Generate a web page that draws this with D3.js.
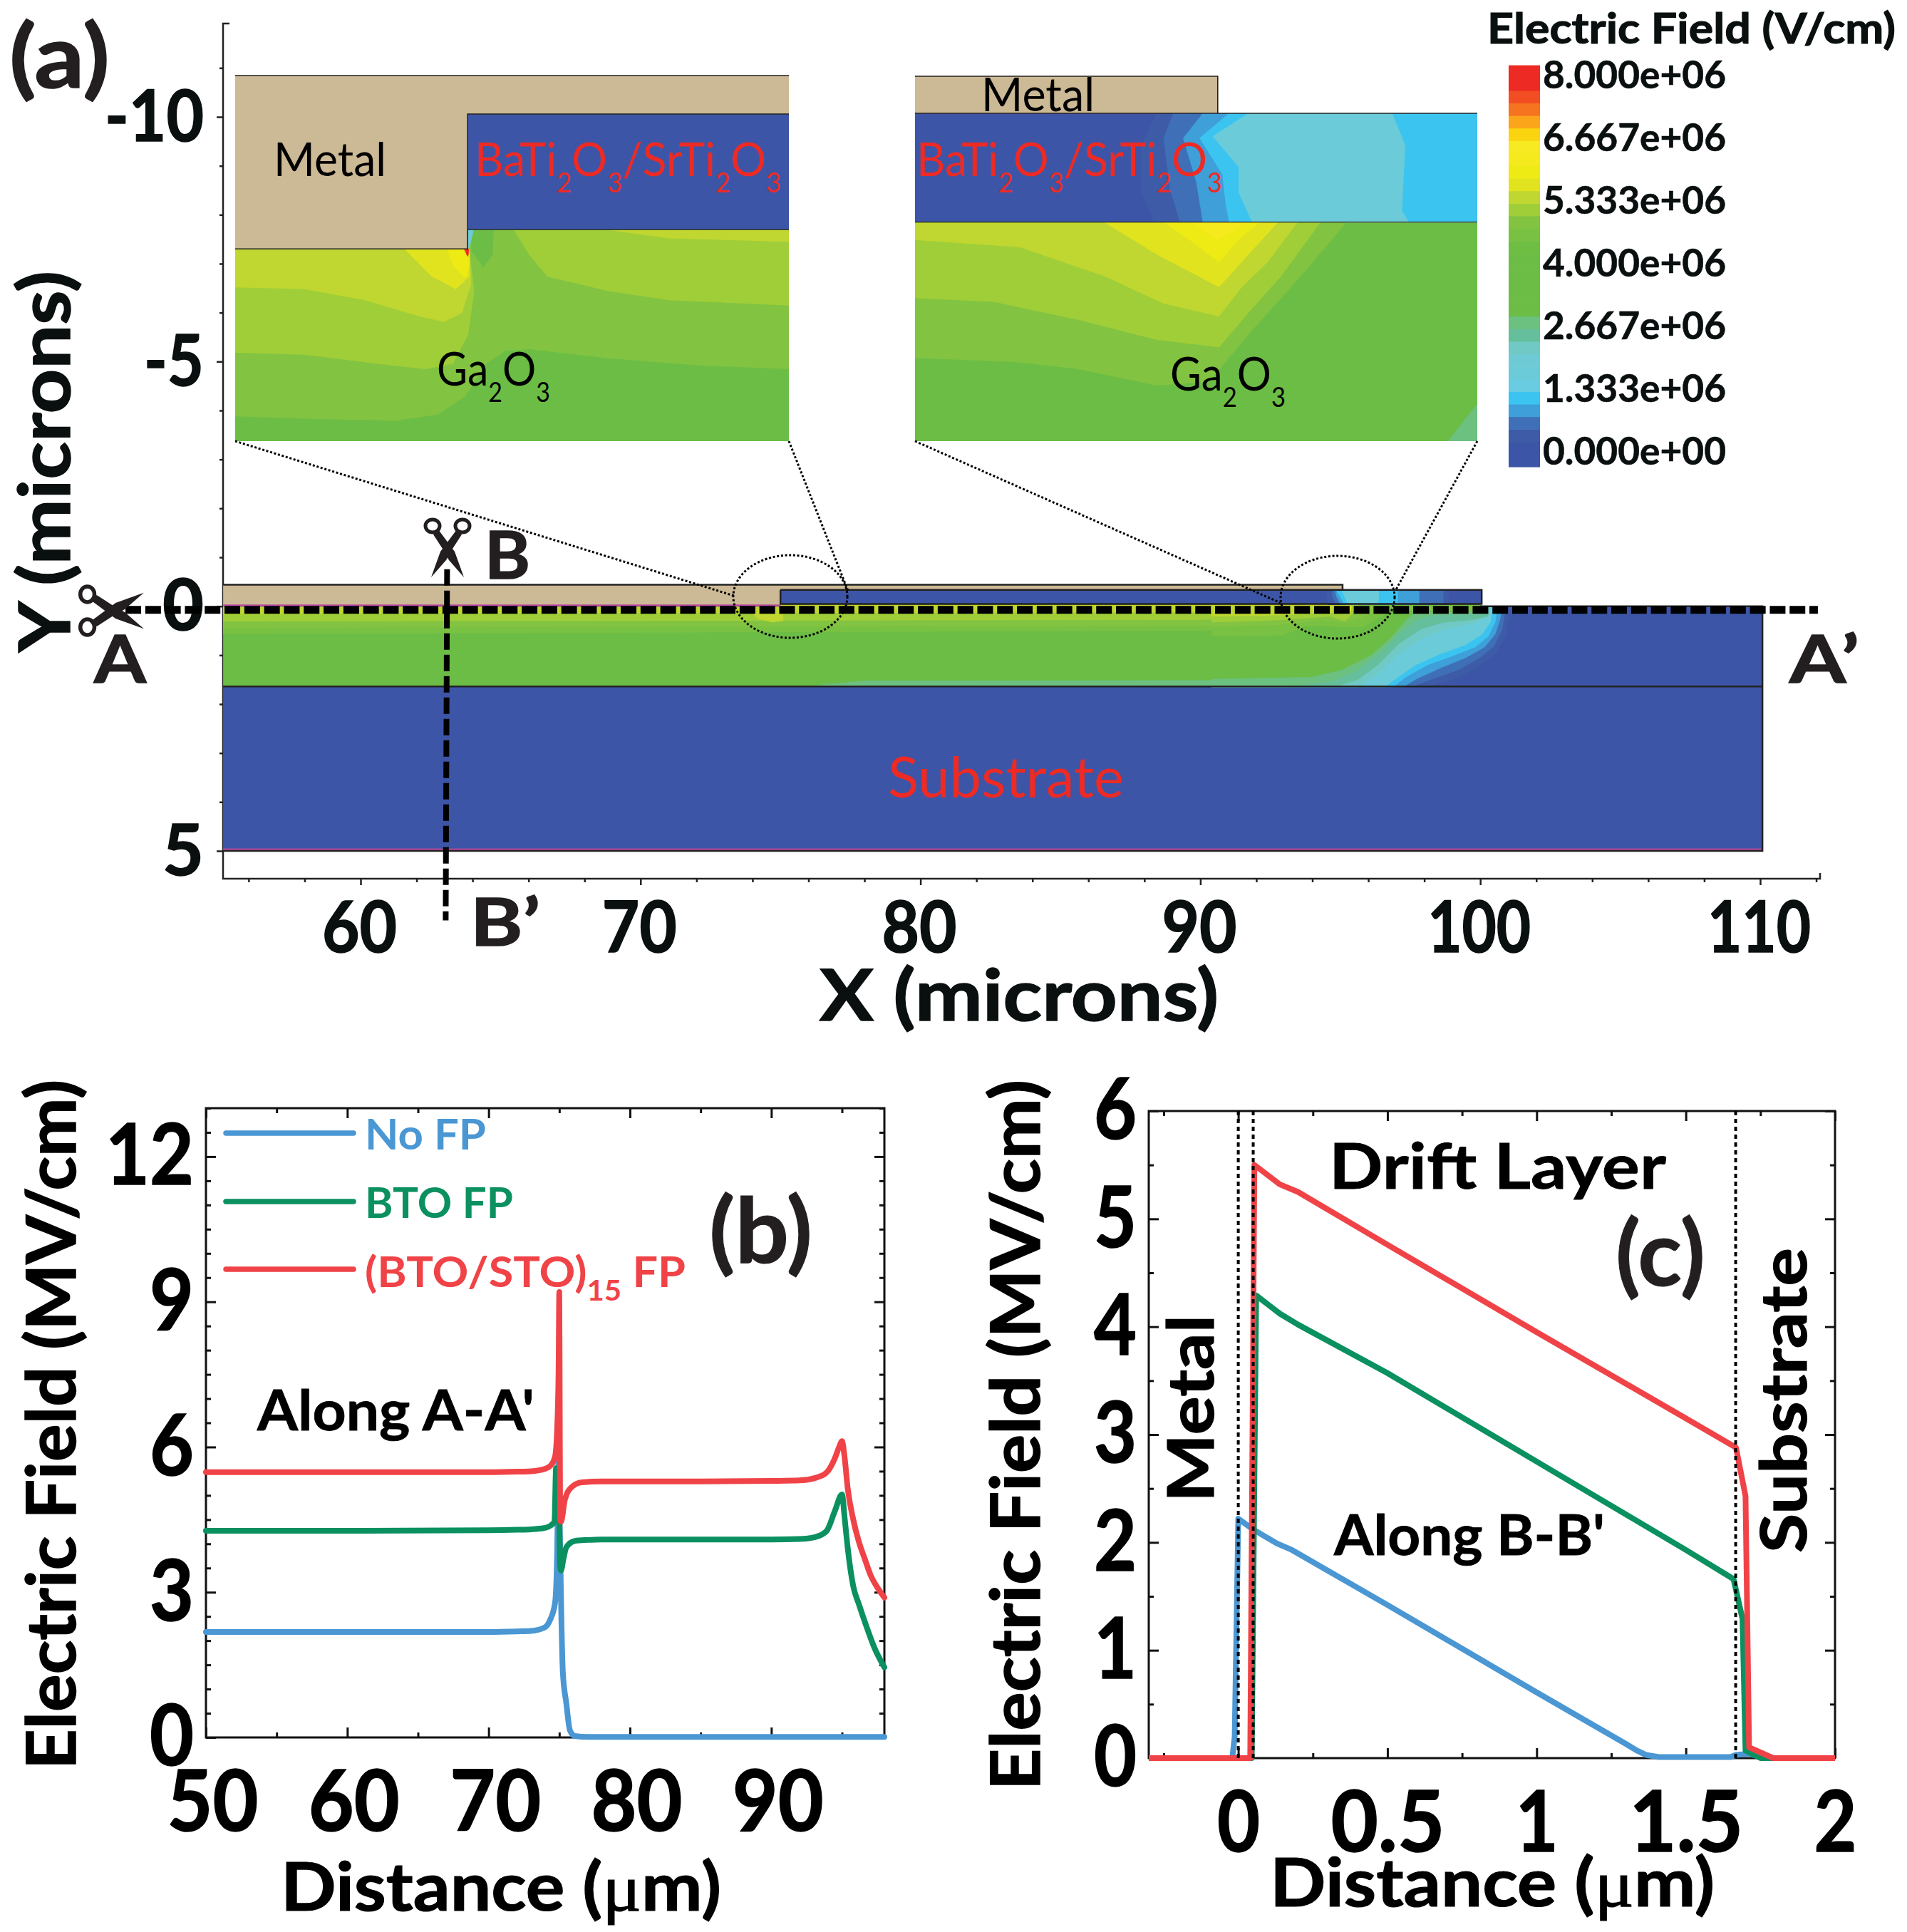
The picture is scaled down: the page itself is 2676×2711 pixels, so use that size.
<!DOCTYPE html>
<html><head><meta charset="utf-8">
<script src="https://cdnjs.cloudflare.com/ajax/libs/d3/7.8.5/d3.min.js"></script>
<style>html,body{margin:0;padding:0;background:#fff}svg{display:block}text{font-family:Lato,"Open Sans",sans-serif}</style>
</head><body><svg id="c" width="2676" height="2711"></svg>
<script>
// ---------- colour bar ----------
const bandColours = ["#3d55a6","#3d55a6","#3e5ba8","#3f70b7","#3f9fd8","#3bc4f0","#69cce0","#6bcbd9","#6ecbd5","#70c9c4","#66bf9c","#6cc080","#6cbd45","#6cbd45","#6cbd45","#6cbd45","#6cbd45","#6ebe44","#79c143","#82c341","#a0ce38","#bfd730","#e2e31f","#eeea14","#f5ea1d","#f7ea22","#fad40f","#fba51b","#f6741f","#f34d23","#ee2a24","#ee2a24"];
const barLabels = ["0.000e+00","1.333e+06","2.667e+06","4.000e+06","5.333e+06","6.667e+06","8.000e+06"];
const barLabelValues = [0,1.333,2.667,4,5.333,6.667,8];
// ---------- panel (a) axes ----------
const xMajorA = [60,70,80,90,100,110];
const xMinorA = [56,58,62,64,66,68,72,74,76,78,82,84,86,88,92,94,96,98,102,104,106,108,112];
const yMajorA = [-10,-5,0,5];
const yMinorA = [-11,-9,-8,-7,-6,-4,-3,-2,-1,1,2,3,4];
// ---------- panel (a) device, microns ----------
const metalPts = [[55.09,-0.44],[95.08,-0.44],[95.08,-0.335],[75,-0.335],[75,0],[55.09,0]];
const filmPts = [[75,-0.335],[100.05,-0.335],[100.05,-0.045],[75,-0.045]];
const stripBands = [
 {v:.1,p:[[97,0],[110.08,0],[110.08,1.64],[97,1.64]]},
 {v:3.5,p:[[55.09,-.05],[100,-.05],[100,1.64],[55.09,1.64]]},
 {v:2.9,p:[[76,1.64],[76.5,1.6],[78,1.52],[92,1.51],[92,1.64]]},
 {v:4.6,p:[[55.09,-.05],[98.5,-.05],[98.5,.1],[97,.14],[96,.28],[95.3,.42],[93.5,.45],[90,.5],[55.09,.57]]},
 {v:4.85,p:[[55.09,-.05],[97,-.05],[96,.14],[95.8,.28],[95,.34],[93,.4],[90,.4],[55.09,.44]]},
 {v:5.1,p:[[55.09,-.05],[96.2,-.05],[95.9,.15],[95.5,.26],[94.5,.28],[92,.24],[90,.28],[55.09,.31]]},
 {v:5.35,p:[[55.09,-.05],[95.6,-.05],[95.6,.12],[94.5,.16],[92,.12],[55.09,.16]]},
 {v:5.6,p:[[93.5,-.05],[95.4,-.05],[95.3,.08],[94.4,.08]]},
 {v:5.85,p:[[94.5,-.05],[95.2,-.05],[95.1,.05],[94.7,.05]]},
 {v:5.35,p:[[73.9,.1],[75.1,.1],[75.1,.3],[74.7,.33],[74.2,.26]]}
];
// contour vertices near the right end of the strip, local grid units
const stripEdgeBands = [
 {v:.1,p:[[1137,215],[1500,215],[1500,553],[800,553]]},
 {v:.6,p:[[0,207],[1137,207],[1137,215],[1260,215],[1255,245],[1240,340],[1190,420],[1120,470],[1020,520],[900,553],[0,553]]},
 {v:.85,p:[[0,207],[1137,207],[1137,215],[1240,215],[1225,310],[1190,380],[1130,430],[1040,480],[940,515],[840,553],[0,553]]},
 {v:1.1,p:[[0,207],[1137,207],[1137,215],[1225,215],[1215,270],[1195,330],[1150,385],[1070,430],[970,470],[870,515],[805,553],[0,553]]},
 {v:1.3,p:[[0,207],[1137,207],[1137,215],[1205,215],[1195,280],[1165,340],[1110,385],[1020,420],[910,460],[820,510],[765,553],[0,553]]},
 {v:1.9,p:[[0,207],[1137,207],[1137,215],[1185,215],[1175,280],[1140,330],[1070,375],[960,415],[860,460],[780,515],[730,553],[0,553]]},
 {v:2.4,p:[[0,207],[1137,207],[1137,215],[1175,215],[1165,255],[1100,285],[980,310],[880,350],[790,410],[710,490],[620,553],[0,553]]},
 {v:2.6,p:[[0,207],[1137,207],[1140,215],[1165,215],[1165,255],[1100,270],[980,280],[880,310],[790,370],[700,460],[620,520],[520,553],[0,553]]},
 {v:2.9,p:[[0,207],[1137,207],[1140,245],[940,250],[860,270],[800,320],[720,400],[620,480],[520,525],[420,540],[300,553],[0,553]]},
 {v:3.5,p:[[0,207],[1125,207],[1125,235],[850,240],[820,270],[750,350],[670,420],[550,480],[420,510],[0,518]]},
 {v:4.6,p:[[0,207],[1125,207],[1125,232],[750,232],[690,270],[640,300],[600,300],[400,295],[300,335],[0,340]]},
 {v:4.85,p:[[0,207],[760,207],[700,232],[620,265],[560,280],[470,270],[300,290],[0,300]]},
 {v:5.1,p:[[0,207],[620,207],[600,240],[560,275],[500,255],[300,270],[0,280]]},
 {v:5.35,p:[[0,207],[590,207],[585,245],[500,240],[300,250],[0,255]]},
 {v:5.6,p:[[510,215],[590,215],[585,235],[525,235]]}
];
const filmEdgeBands = [
 {v:.6,p:[[480,148],[490,207],[1000,207],[1000,148]]},
 {v:.85,p:[[505,148],[510,175],[525,207],[975,207],[978,148]]},
 {v:1.1,p:[[520,148],[525,170],[545,207],[875,207],[875,148]]},
 {v:1.3,p:[[525,148],[540,170],[560,207],[785,207],[785,148]]},
 {v:1.9,p:[[548,148],[575,207],[700,207],[705,180],[705,148]]}
];
// ---------- left inset, local grid units ----------
const leftInsetField = [
 {v:3.5,p:[[769,631],[1297,631],[1297,1213],[387,1213],[387,684],[769,684]]},
 {v:4.85,p:[[387,684],[769,684],[769,631],[1297,631],[1297,1015],[1150,1005],[1000,985],[870,960],[830,965],[800,1000],[765,1090],[720,1140],[650,1157],[520,1152],[387,1145]]},
 {v:5.1,p:[[387,684],[772,684],[780,800],[770,920],[745,1000],[700,1015],[620,1000],[500,975],[387,970]]},
 {v:5.1,p:[[845,632],[1297,632],[1297,840],[1100,825],[1000,800],[900,760],[870,700]]},
 {v:5.35,p:[[387,684],[772,684],[775,780],[760,860],[730,885],[690,870],[600,825],[500,795],[387,790]]},
 {v:5.35,p:[[1000,632],[1297,632],[1297,665],[1100,655]]},
 {v:5.6,p:[[665,684],[772,684],[772,760],[750,795],[710,760]]},
 {v:5.85,p:[[735,684],[772,684],[772,730],[765,765],[745,730]]},
 {v:3.5,p:[[775,632],[812,632],[810,700],[795,735],[775,690]]},
 {v:1.9,p:[[769,632],[779,632],[772,682],[769,682]]},
 {v:7.1,p:[[762,684],[772,684],[771,700],[766,696]]},
 {v:7.9,p:[[765,684],[771,684],[770,706],[767,700]]}
];
// ---------- right inset, local grid units ----------
const rightInsetFilm = [
 {v:.6,p:[[420,312],[910,312],[910,610],[415,610],[395,520],[395,400]]},
 {v:.85,p:[[445,312],[910,312],[910,610],[455,610],[440,520],[430,380]]},
 {v:1.1,p:[[490,312],[910,312],[910,610],[490,610],[480,500],[460,380]]},
 {v:1.3,p:[[530,312],[910,312],[910,610],[530,610],[525,560],[520,480],[485,380]]},
 {v:1.9,p:[[560,312],[780,312],[800,400],[795,580],[805,610],[565,610],[545,530],[545,460],[505,375]]}
];
const rightInsetField = [
 {v:3.5,p:[[50,612],[910,612],[910,1213],[50,1213]]},
 {v:2.9,p:[[865,1213],[910,1110],[910,1213]]},
 {v:4.85,p:[[50,612],[710,612],[640,760],[560,920],[500,1050],[420,1060],[300,1015],[200,995],[50,985]]},
 {v:5.1,p:[[50,612],[670,612],[610,760],[565,850],[515,955],[420,935],[300,880],[170,830],[50,820]]},
 {v:5.35,p:[[50,612],[635,612],[590,720],[550,790],[515,870],[430,835],[340,760],[210,680],[50,660]]},
 {v:5.6,p:[[340,612],[605,612],[560,700],[515,790],[420,700]]},
 {v:5.85,p:[[430,612],[578,612],[550,650],[515,722],[470,660]]},
 {v:6.1,p:[[475,612],[555,612],[535,640],[512,660]]}
];
// ---------- panel (b) ----------
const bBlueX=[50,60,70,72,73,74,74.35,74.7,74.85,74.95,75.02,75.15,75.25,75.5,75.75,76.1,77,85,98];
const bBlueY=[2.18,2.18,2.18,2.19,2.2,2.28,2.43,2.78,3.85,5.85,4.6,2.42,1.35,.7,.15,.03,.01,.01,.01];
const bGreenX=[50,60,70,72,73,74,74.4,74.66,74.77,74.9,75.0,75.05,75.12,75.3,75.5,76.1,77,78,85,90,92,93.1,93.9,94.5,95,95.2,95.4,95.8,96.2,96.7,97.3,98];
const bGreenY=[4.27,4.27,4.28,4.29,4.3,4.33,4.38,4.46,5.56,5.3,4.6,3.6,3.45,3.7,3.93,4.06,4.08,4.09,4.09,4.09,4.1,4.14,4.26,4.68,5.02,4.5,3.93,3.12,2.75,2.32,1.85,1.45];
const bRedX=[50,60,70,72,73,74,74.4,74.7,74.85,74.95,75,75.03,75.06,75.12,75.4,75.9,76.6,78,80,85,90,92,93.1,93.9,94.5,94.8,95,95.2,95.4,95.8,96.2,96.6,97.03,97.5,98];
const bRedY=[5.48,5.48,5.48,5.49,5.5,5.55,5.62,5.8,6.4,7.6,9.2,7,4.5,4.46,4.92,5.18,5.27,5.29,5.29,5.29,5.3,5.31,5.36,5.47,5.77,6,6.12,5.75,5.16,4.5,4.04,3.7,3.35,3.1,2.89];
const bLegend=["No FP","BTO FP","(BTO/STO)"];
// ---------- panel (c) ----------
const cBlueX=[-.3,-.02,-.012,0,.05,.13,.18,.5,1,1.3,1.336,1.366,1.41,1.65,1.668,1.71,1.77,2];
const cBlueY=[0,0,.2,2.22,2.12,1.99,1.93,1.42,.61,.13,.07,.03,.01,.01,.03,.04,0,0];
const cGreenX=[-.3,.045,.06,.14,.2,.5,1,1.5,1.66,1.69,1.7,1.75,2];
const cGreenY=[0,0,4.29,4.12,4.02,3.57,2.75,1.93,1.66,1.29,.07,0,0];
const cRedX=[-.3,.04,.054,.139,.2,.5,1,1.5,1.668,1.7,1.712,1.793,2];
const cRedY=[0,0,5.5,5.32,5.25,4.76,3.95,3.15,2.88,2.43,.1,0,0];
const cGuides=[0,.05,1.667];

const BLUE="#4a97d3",GREEN="#0b9060",RED="#f04347",BLACK="#0a0f10",INK="#231f20";
const svg=d3.select("#c");
const band=d3.scaleQuantize().domain([0,8]).range(bandColours);
const lineAB=d3.line().x(d=>d[0]).y(d=>d[1]);

function label(x,y,t,o={}){
  const el=svg.append("text").attr("x",x).attr("y",y)
    .attr("font-size",o.size||60).attr("font-weight",o.weight||"bold")
    .attr("fill",o.fill||BLACK).attr("text-anchor",o.anchor||"start");
  if(o.rotate) el.attr("transform",`rotate(${o.rotate} ${x} ${y})`);
  if(o.stroke) el.attr("stroke",o.fill||BLACK).attr("stroke-width",o.stroke);
  if(o.len) el.attr("textLength",o.len).attr("lengthAdjust","spacingAndGlyphs");
  if(Array.isArray(t)){
    t.forEach(s=>{
      const ts=el.append("tspan").text(s.t);
      if(s.sub) ts.attr("dy",s.drop).attr("font-size",s.size);
      if(s.back) ts.attr("dy",-s.back);
      if(s.font) ts.attr("font-family",s.font).attr("font-weight","normal");
    });
  } else el.text(t);
  return el;
}
function polys(data,sx,sy){
  const g=svg.append("g");
  g.selectAll("path").data(data).join("path")
    .attr("d",d=>"M"+d.p.map(q=>[sx(q[0]),sy(q[1])].join(",")).join("L")+"Z")
    .attr("fill",d=>band(d.v));
  return g;
}
function edge(pts,sx,sy,w){
  svg.append("path").attr("d",lineAB(pts.map(q=>[sx(q[0]),sy(q[1])]))).attr("fill","none").attr("stroke","#222").attr("stroke-width",w);
}
function dotted(x1,y1,x2,y2){
  svg.append("line").attr("x1",x1).attr("y1",y1).attr("x2",x2).attr("y2",y2)
   .attr("stroke","#000").attr("stroke-width",3).attr("stroke-dasharray","3 2.7");
}
const dropEmpty=g=>g.selectAll("text").filter(function(){return !this.textContent;}).remove();

// ================= Panel (a) =================
const xA=d3.scaleLinear().domain([60,110]).range([506,2470]);
const yA=d3.scaleLinear().domain([-10,5]).range([164,1194]);
const gridX=d3.scaleLinear().domain([0,1500]).range([1700,2200]);
const gridY=d3.scaleLinear().domain([0,660]).range([780,1000]);

function axisStyle(g){
  g.select(".domain").remove();
  g.selectAll("line").attr("stroke","#222").attr("stroke-width",2.5);
  g.selectAll("text").attr("font-weight","bold").attr("fill",BLACK).attr("stroke",BLACK).attr("stroke-width",1.5);
  dropEmpty(g);
}
const gYa=svg.append("g").attr("transform","translate(313,0)")
 .call(d3.axisLeft(yA).tickValues(yMajorA).tickFormat(d=>String(d)).tickSize(9).tickPadding(18)).call(axisStyle);
gYa.selectAll("text").attr("font-size",100).attr("dy","0.33em").each(function(d){
  d3.select(this).attr("textLength",String(d).length===1?58:(String(d).length===2?84:139)).attr("lengthAdjust","spacingAndGlyphs");
});
svg.append("g").attr("transform","translate(313,0)")
 .call(d3.axisLeft(yA).tickValues(yMinorA).tickFormat("").tickSize(5)).call(axisStyle);
const gXa=svg.append("g").attr("transform","translate(0,1233)")
 .call(d3.axisBottom(xA).tickValues(xMajorA).tickFormat(String).tickSize(9).tickPadding(23)).call(axisStyle);
gXa.selectAll("text").attr("font-size",100).attr("dy","0.71em").attr("dx",-2).each(function(d){
  d3.select(this).attr("textLength",String(d).length===2?105:145).attr("lengthAdjust","spacingAndGlyphs");
});
svg.append("g").attr("transform","translate(0,1233)")
 .call(d3.axisBottom(xA).tickValues(xMinorA).tickFormat("").tickSize(5)).call(axisStyle);
svg.append("path").attr("d","M322,33H313V1233H2554V1225").attr("fill","none").attr("stroke","#222").attr("stroke-width",2.5);

// substrate + strip
svg.append("rect").attr("x",xA(55.09)).attr("y",yA(1.64)).attr("width",xA(110.08)-xA(55.09)).attr("height",yA(5)-yA(1.64)).attr("fill",band(.1));
svg.append("rect").attr("x",xA(55.09)).attr("y",yA(4.95)).attr("width",xA(110.08)-xA(55.09)).attr("height",yA(5)-yA(4.95)).attr("fill","#b5489f");
polys(stripBands,xA,yA);
polys(stripEdgeBands,gridX,gridY);
const tan="#ccb995";
svg.append("path").attr("d",lineAB(filmPts.map(q=>[xA(q[0]),yA(q[1])]))+"Z").attr("fill",band(.1));
polys(filmEdgeBands,gridX,gridY);
svg.append("path").attr("d",lineAB(metalPts.map(q=>[xA(q[0]),yA(q[1])]))+"Z").attr("fill",tan);
svg.append("rect").attr("x",xA(55.09)).attr("y",yA(-.035)).attr("width",xA(75)-xA(55.09)).attr("height",3).attr("fill","#b5489f");
edge(filmPts.concat([filmPts[0]]),xA,yA,2.5);
edge([[55.09,-.44],[95.08,-.44],[95.08,-.335]],xA,yA,2.5);
edge([[100,0],[110.08,0],[110.08,5],[55.09,5]],xA,yA,2.5);
edge([[55.09,1.64],[110.08,1.64]],xA,yA,2.5);

label(1246,1119,"Substrate",{size:80,weight:"normal",fill:"#ee2a24",len:331});

// insets
const lx=d3.scaleLinear().domain([387,1297]).range([330,1107]);
const ly=d3.scaleLinear().domain([207,1213]).range([106,619]);
const rx=d3.scaleLinear().domain([50,910]).range([1284,2073]);
const ry=d3.scaleLinear().domain([210,1213]).range([107,619]);
polys(leftInsetField,lx,ly);
svg.append("rect").attr("x",lx(769)).attr("y",ly(313)).attr("width",lx(1297)-lx(769)).attr("height",ly(631)-ly(313)).attr("fill",band(.1));
const leftMetal=[[387,207],[1297,207],[1297,313],[769,313],[769,684],[387,684]];
svg.append("path").attr("d",lineAB(leftMetal.map(q=>[lx(q[0]),ly(q[1])]))+"Z").attr("fill",tan);
edge([[387,684],[769,684],[769,313],[1297,313]],lx,ly,1.6);
edge([[387,207],[1297,207]],lx,ly,1.6);
edge([[769,631],[1297,631]],lx,ly,1.2);
svg.append("rect").attr("x",rx(50)).attr("y",ry(312)).attr("width",rx(910)-rx(50)).attr("height",ry(610)-ry(312)).attr("fill",band(.1));
polys(rightInsetFilm,rx,ry);
polys(rightInsetField,rx,ry);
svg.append("rect").attr("x",rx(50)).attr("y",ry(210)).attr("width",rx(513)-rx(50)).attr("height",ry(312)-ry(210)).attr("fill",tan);
edge([[50,210],[513,210],[513,312]],rx,ry,1.6);
edge([[50,312],[910,312]],rx,ry,1.6);
edge([[50,611],[910,611]],rx,ry,1.2);

const subs=(a,b)=>[{t:a},{t:"2",sub:true,drop:23,size:38},{t:b,back:23},{t:"3",sub:true,drop:23,size:38}];
label(384,247,"Metal",{size:66,weight:"normal",fill:"#000",len:158});
label(1377,156,"Metal",{size:66,weight:"normal",fill:"#000",len:159});
const btoText=[{t:"BaTi"},{t:"2",sub:true,drop:23,size:38},{t:"O",back:23},{t:"3",sub:true,drop:23,size:38},{t:"/SrTi",back:23},{t:"2",sub:true,drop:23,size:38},{t:"O",back:23},{t:"3",sub:true,drop:23,size:38}];
label(666,247,btoText,{size:66,weight:"normal",fill:"#ee2a24",len:430});
label(1286,247,btoText,{size:66,weight:"normal",fill:"#ee2a24",len:429});
label(613,541,subs("Ga","O"),{size:66,weight:"normal",fill:"#000",len:159});
label(1642,548,subs("Ga","O"),{size:66,weight:"normal",fill:"#000",len:162});

dotted(lx(387),ly(1213),1030,836);
dotted(lx(1297),ly(1213),1190,829);
dotted(rx(50),ry(1213),1797,846);
dotted(rx(910),ry(1213),1958,829);
[[1109,837],[1877,838]].forEach(c=>{
  svg.append("ellipse").attr("cx",c[0]).attr("cy",c[1]).attr("rx",80).attr("ry",58)
   .attr("fill","none").attr("stroke","#000").attr("stroke-width",3).attr("stroke-dasharray","3 2.7");
});
svg.append("line").attr("x1",xA(51.6)).attr("x2",xA(112.06)).attr("y1",yA(.073)).attr("y2",yA(.073))
 .attr("stroke","#000").attr("stroke-width",11).attr("stroke-dasharray","22 5.8");
svg.append("line").attr("x1",xA(63.09)).attr("x2",xA(63.04)).attr("y1",yA(-.757)).attr("y2",yA(6.42))
 .attr("stroke","#000").attr("stroke-width",8).attr("stroke-dasharray","23 7");

function scissors(x,y,rot,s){
  const g=svg.append("g").attr("transform",`translate(${x},${y}) rotate(${rot}) scale(${s})`);
  [[1],[-1]].forEach(([k])=>{
    g.append("ellipse").attr("cx",-24).attr("cy",21*k).attr("rx",9).attr("ry",10).attr("fill","none").attr("stroke",INK).attr("stroke-width",5);
    g.append("path").attr("d",`M-19,${13*k}L-12,${20*k}L8,${7*k}L24,${-2*k}L48,${-23*k}L12,${-10*k}Z`).attr("fill",INK);
  });
}
scissors(628,762,90,1);
scissors(149,857,0,1.1);

label(13,123,"(a)",{size:122,fill:INK,len:141,stroke:1.5});
label(132,958,"A",{size:92,fill:INK,len:73,stroke:1.5});
label(2511,958,"A’",{size:92,fill:INK,len:98,stroke:1.5});
label(680,812,"B",{size:92,fill:INK,len:64,stroke:1.5});
label(660,1327,"B’",{size:92,fill:INK,len:98,stroke:1.5});
label(1150,1432,"X (microns)",{size:100,len:560,stroke:1.5});
label(98,915,"Y (microns)",{size:100,rotate:-90,len:535,stroke:1.5});

const yBar=d3.scaleLinear().domain([0,8]).range([655,91.6]);
svg.append("g").selectAll("rect").data(bandColours).join("rect")
 .attr("x",2117).attr("width",44)
 .attr("y",(d,i)=>yBar((i+1)*.25)).attr("height",(d,i)=>yBar(i*.25)-yBar((i+1)*.25)+.6).attr("fill",d=>d);
const yBarLabel=d3.scaleLinear().domain([0,8]).range([652,124]);
barLabels.forEach((t,i)=>label(2165,yBarLabel(barLabelValues[i]),t,{size:54,len:257,stroke:.6}));
label(2087,61,"Electric Field (V/cm)",{size:60,len:573,stroke:1.2});

// ================= Panel (b) =================
const xB=d3.scaleLinear().domain([50,98]).range([289,1241]);
const yB=d3.scaleLinear().domain([0,13]).range([2438,1555]);
function framed(x,y,xMaj,xMin,yMaj,yMin,L,R,T,B,xFmt,lenX,lenY){
  const st=g=>{g.select(".domain").remove();g.selectAll("line").attr("stroke","#111").attr("stroke-width",3);g.selectAll("text").attr("font-weight","bold").attr("fill","#000").attr("stroke","#000").attr("stroke-width",1.5);dropEmpty(g);};
  svg.append("g").attr("transform",`translate(${L},0)`).call(d3.axisLeft(y).tickValues(yMaj).tickFormat(String).tickSize(-14).tickPadding(17)).call(st)
   .selectAll("text").attr("font-size",118).attr("dy",".33em").each(function(d){d3.select(this).attr("textLength",String(d).length*lenY).attr("lengthAdjust","spacingAndGlyphs");});
  svg.append("g").attr("transform",`translate(${L},0)`).call(d3.axisLeft(y).tickValues(yMin).tickFormat("").tickSize(-7)).call(st);
  svg.append("g").attr("transform",`translate(${R},0)`).call(d3.axisRight(y).tickValues(yMaj).tickFormat("").tickSize(-14)).call(st);
  svg.append("g").attr("transform",`translate(${R},0)`).call(d3.axisRight(y).tickValues(yMin).tickFormat("").tickSize(-7)).call(st);
  const gx=svg.append("g").attr("transform",`translate(0,${B})`).call(d3.axisBottom(x).tickValues(xMaj).tickFormat(xFmt).tickSize(-14).tickPadding(47)).call(st);
  gx.selectAll("text").attr("font-size",118).attr("dy",".71em").each(function(d){lenX(d3.select(this),d);});
  svg.append("g").attr("transform",`translate(0,${B})`).call(d3.axisBottom(x).tickValues(xMin).tickFormat("").tickSize(-7)).call(st);
  svg.append("g").attr("transform",`translate(0,${T})`).call(d3.axisTop(x).tickValues(xMaj).tickFormat("").tickSize(-14)).call(st);
  svg.append("g").attr("transform",`translate(0,${T})`).call(d3.axisTop(x).tickValues(xMin).tickFormat("").tickSize(-7)).call(st);
  svg.append("rect").attr("x",L).attr("y",T).attr("width",R-L).attr("height",B-T).attr("fill","none").attr("stroke","#111").attr("stroke-width",3);
}
framed(xB,yB,[50,60,70,80,90],[55,65,75,85,95],[0,3,6,9,12],d3.range(0,13.01,.5).filter(d=>d%3!==0),289,1241,1555,2438,String,
 (s,d)=>s.attr("textLength",128).attr("lengthAdjust","spacingAndGlyphs").attr("dx",9),62);
const lineB=d3.line().x(d=>xB(d[0])).y(d=>yB(d[1])).curve(d3.curveMonotoneX);
[[bBlueX,bBlueY,BLUE],[bGreenX,bGreenY,GREEN],[bRedX,bRedY,RED]].forEach(([a,b,c])=>{
  svg.append("path").attr("d",lineB(a.map((v,i)=>[v,b[i]]))).attr("fill","none").attr("stroke",c).attr("stroke-width",8).attr("stroke-linejoin","round").attr("stroke-linecap","round");
});
const legendY=d3.scaleOrdinal().domain(bLegend).range([1590,1686,1781]);
[BLUE,GREEN,RED].forEach((c,i)=>{
  const yy=legendY(bLegend[i]);
  svg.append("line").attr("x1",317).attr("x2",496).attr("y1",yy).attr("y2",yy).attr("stroke",c).attr("stroke-width",7.5).attr("stroke-linecap","round");
});
label(512,1613,"No FP",{size:60,fill:BLUE,len:170});
label(512,1709,"BTO FP",{size:60,fill:GREEN,len:208});
label(512,1806,[{t:"(BTO/STO)"},{t:"15",sub:true,drop:19,size:40},{t:" FP",back:19}],{size:60,fill:RED,len:450});
label(995,1772,"(b)",{size:126,fill:INK,len:145,stroke:1});
label(361,2007,"Along A-A'",{size:78,fill:"#000",len:389,stroke:.8});
label(394,2681,[{t:"Distance ("},{t:"μ",font:"Liberation Serif"},{t:"m)"}],{size:94,fill:"#000",len:618,stroke:1.2});
label(106,2483,"Electric Field (MV/cm)",{size:95,fill:"#000",rotate:-90,len:968,stroke:1.5});

// ================= Panel (c) =================
const xC=d3.scaleLinear().domain([-.3,2]).range([1612,2575]);
const yC=d3.scaleLinear().domain([0,6]).range([2467,1559]);
framed(xC,yC,[0,.5,1,1.5,2],[-.25,.25,.75,1.25,1.75],[0,1,2,3,4,5,6],[.5,1.5,2.5,3.5,4.5,5.5],1612,2575,1559,2467,String,
 (s,d)=>s.attr("textLength",String(d).length===1?60:160).attr("lengthAdjust","spacingAndGlyphs"),60);
const lineC=d3.line().x(d=>xC(d[0])).y(d=>yC(d[1]));
[[cBlueX,cBlueY,BLUE],[cGreenX,cGreenY,GREEN],[cRedX,cRedY,RED]].forEach(([a,b,c])=>{
  svg.append("path").attr("d",lineC(a.map((v,i)=>[v,b[i]]))).attr("fill","none").attr("stroke",c).attr("stroke-width",8).attr("stroke-linejoin","round");
});
cGuides.forEach(g=>{
  svg.append("line").attr("x1",xC(g)).attr("x2",xC(g)).attr("y1",1559).attr("y2",2467).attr("stroke","#000").attr("stroke-width",4).attr("stroke-dasharray","6 5");
});
label(1865,1668,"Drift Layer",{size:88,fill:"#000",len:473,stroke:.8});
label(2267,1804,"(c)",{size:126,fill:INK,len:126,stroke:1});
label(1872,2182,"Along B-B'",{size:78,fill:"#000",len:380,stroke:.8});
label(1782,2675,[{t:"Distance ("},{t:"μ",font:"Liberation Serif"},{t:"m)"}],{size:94,fill:"#000",len:624,stroke:1.2});
label(1459,2512,"Electric Field (MV/cm)",{size:95,fill:"#000",rotate:-90,len:997,stroke:1.5});
label(1703,2108,"Metal",{size:90,fill:"#000",rotate:-90,len:263,stroke:1.2});
label(2535,2179,"Substrate",{size:90,fill:"#000",rotate:-90,len:428,stroke:1.2});
</script></body></html>
